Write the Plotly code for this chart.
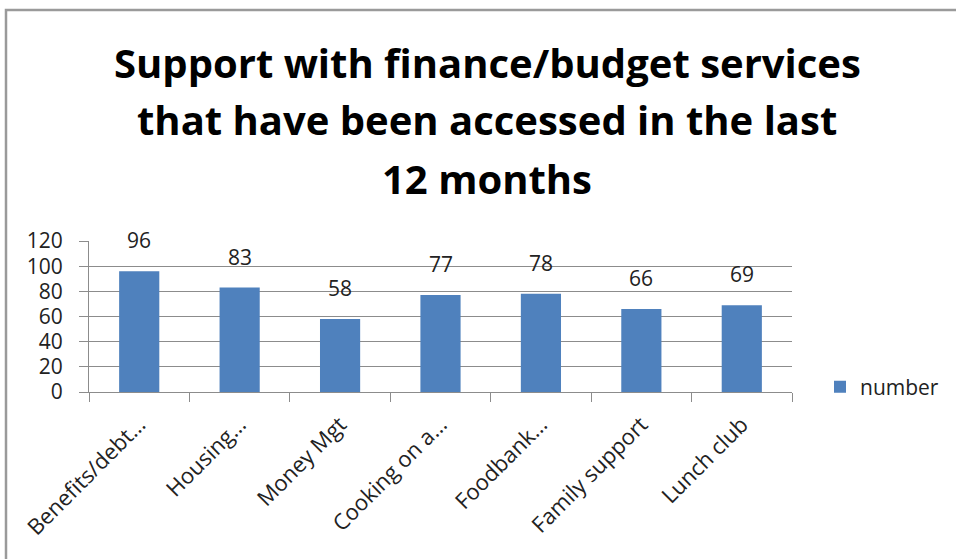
import plotly.graph_objects as go

categories = ['Benefits/debt…', 'Housing…', 'Money Mgt', 'Cooking on a…',
              'Foodbank…', 'Family support', 'Lunch club']
values = [96, 83, 58, 77, 78, 66, 69]
series_name = 'number'
title_lines = ['Support with finance/budget services',
               'that have been accessed in the last',
               '12 months']

W, H = 956, 559
L, R, T, B = 89, 164, 241, 167
PW = W - L - R
PH = H - T - B
BAR = '#4f81bd'
GRID = '#8c8c8c'
FONT = 'Open Sans'

fig = go.Figure()
fig.add_trace(go.Bar(x=categories, y=values, name=series_name,
                     marker_color=BAR, marker_line_width=0))

# value labels floating above each bar
for c, v in zip(categories, values):
    fig.add_annotation(x=c, y=v, text=str(v), showarrow=False,
                       yanchor='bottom', yshift=15,
                       font=dict(family=FONT, size=21, color='#222'))

# title, one line per annotation so the spacing can follow the reference
for i, line in enumerate(title_lines):
    cy = 62 + 58 * i
    fig.add_annotation(xref='paper', yref='paper', x=(487 - L) / PW,
                       y=(H - B - cy) / PH, text='<b>%s</b>' % line,
                       showarrow=False, xanchor='center', yanchor='middle',
                       font=dict(family=FONT, size=40, color='black'))

# outer chart frame
fig.add_shape(type='rect', xref='paper', yref='paper',
              x0=(6 - L) / PW, x1=(962 - L) / PW,
              y0=(H - B - 565) / PH, y1=(H - B - 10) / PH,
              line=dict(color='#9a9a9a', width=2.5), fillcolor='rgba(0,0,0,0)',
              layer='below')

fig.update_layout(
    width=W, height=H,
    margin=dict(l=L, r=R, t=T, b=B, autoexpand=False),
    paper_bgcolor='white', plot_bgcolor='white',
    bargap=0.6,
    showlegend=True,
    legend=dict(x=(820 - L) / PW, y=(H - B - 387) / PH,
                xanchor='left', yanchor='middle',
                font=dict(family=FONT, size=21, color='#222'),
                itemwidth=30),
    font=dict(family=FONT, color='#222'),
)
fig.update_yaxes(range=[0, 120], dtick=20, showgrid=True, gridcolor=GRID,
                 gridwidth=1, showline=True, linecolor=GRID, ticks='outside',
                 ticklen=9, tickcolor=GRID, zeroline=False, automargin=False,
                 ticklabelstandoff=12,
                 tickfont=dict(family=FONT, size=21, color='#222'))
fig.update_xaxes(showline=True, linecolor=GRID, tickangle=-45,
                 ticks='outside', ticklen=9, tickcolor=GRID,
                 tickson='boundaries', automargin=False, ticklabelstandoff=10,
                 tickfont=dict(family=FONT, size=22, color='#222'))

# the page body has a default 8px margin; drop it so the figure sits at 0,0
fig.write_html('out.html', config={'displayModeBar': False},
               post_script="document.body.style.margin='0';")
